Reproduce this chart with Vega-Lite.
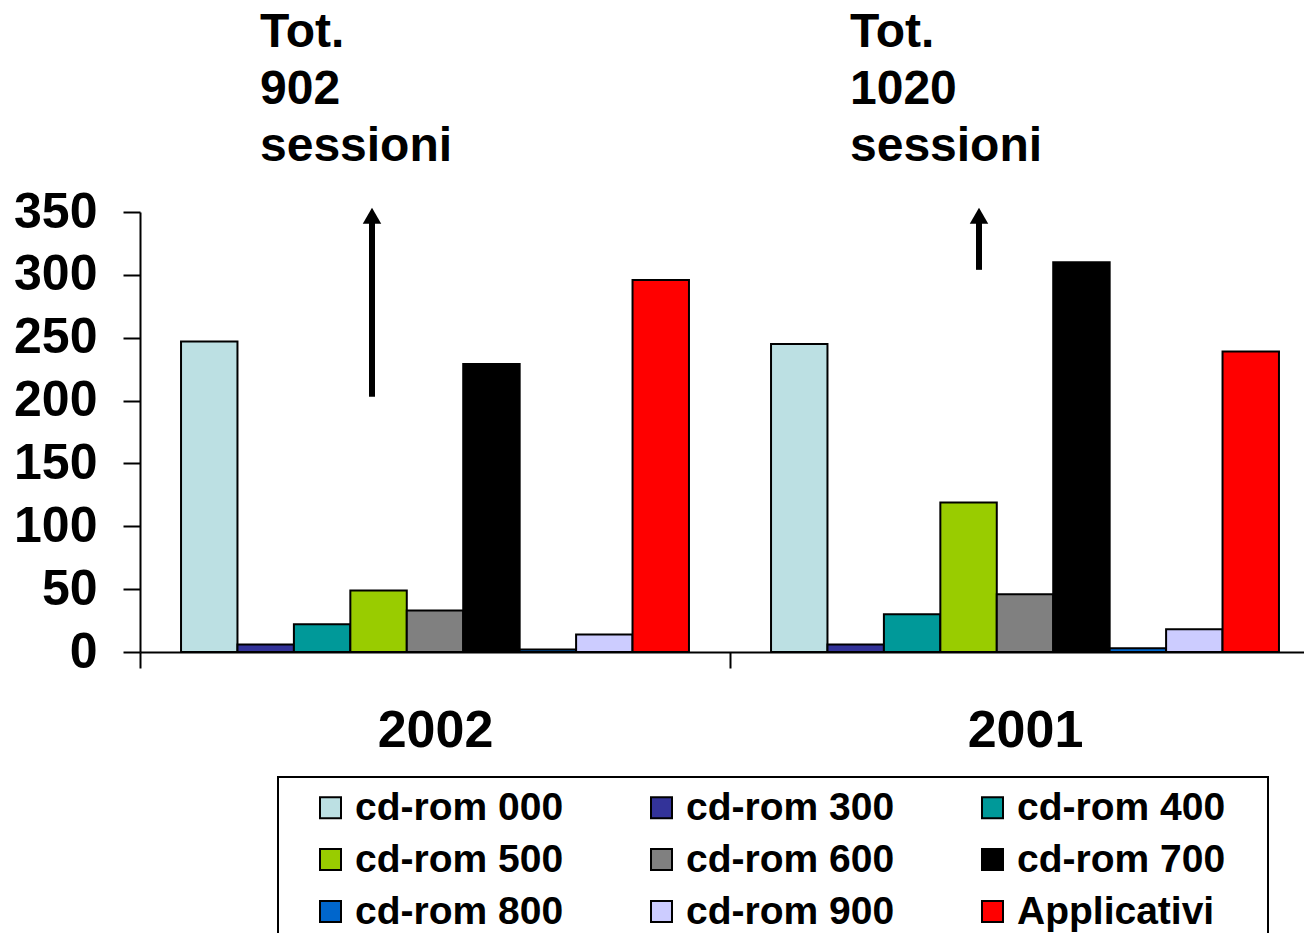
{
  "$schema": "https://vega.github.io/schema/vega-lite/v6.json",
  "width": 1164,
  "height": 440,
  "autosize": {"type": "none"},
  "padding": {"left": 140, "top": 212, "right": 0, "bottom": 281},
  "background": "white",
  "config": {
    "view": {"stroke": null},
    "font": "Liberation Sans",
    "legend": {"strokeWidth": 2}
  },
  "datasets": {
    "sessions": [
      {"year": "2002", "series": "cd-rom 000", "value": 247},
      {"year": "2002", "series": "cd-rom 300", "value": 6},
      {"year": "2002", "series": "cd-rom 400", "value": 22},
      {"year": "2002", "series": "cd-rom 500", "value": 49},
      {"year": "2002", "series": "cd-rom 600", "value": 33},
      {"year": "2002", "series": "cd-rom 700", "value": 229},
      {"year": "2002", "series": "cd-rom 800", "value": 2},
      {"year": "2002", "series": "cd-rom 900", "value": 14},
      {"year": "2002", "series": "Applicativi", "value": 296},
      {"year": "2001", "series": "cd-rom 000", "value": 245},
      {"year": "2001", "series": "cd-rom 300", "value": 6},
      {"year": "2001", "series": "cd-rom 400", "value": 30},
      {"year": "2001", "series": "cd-rom 500", "value": 119},
      {"year": "2001", "series": "cd-rom 600", "value": 46},
      {"year": "2001", "series": "cd-rom 700", "value": 310},
      {"year": "2001", "series": "cd-rom 800", "value": 3},
      {"year": "2001", "series": "cd-rom 900", "value": 18},
      {"year": "2001", "series": "Applicativi", "value": 239}
    ],
    "notes": [
      {"year": "2002", "note": "Tot. 902 sessioni"},
      {"year": "2001", "note": "Tot. 1020 sessioni"}
    ],
    "arrows": [
      {"year": "2002", "from": 203},
      {"year": "2001", "from": 304}
    ]
  },
  "layer": [
    {
      "data": {"name": "sessions"},
      "mark": {"type": "bar", "stroke": "black", "strokeWidth": 2},
      "encoding": {
        "x": {
          "field": "year", "type": "nominal", "sort": ["2002", "2001"],
          "scale": {"range": [0, 1180], "paddingInner": 0, "paddingOuter": 0},
          "axis": {
            "title": null, "labelAngle": 0,
            "domainColor": "black", "domainWidth": 2,
            "tickColor": "black", "tickWidth": 2, "tickSize": 16, "tickBand": "extent",
            "labelFontSize": 52, "labelFontWeight": "bold", "labelColor": "black", "labelPadding": 37
          }
        },
        "xOffset": {
          "field": "series", "type": "nominal",
          "sort": ["cd-rom 000", "cd-rom 300", "cd-rom 400", "cd-rom 500", "cd-rom 600", "cd-rom 700", "cd-rom 800", "cd-rom 900", "Applicativi"],
          "scale": {"paddingInner": 0, "paddingOuter": 0.727}
        },
        "y": {
          "field": "value", "type": "quantitative",
          "scale": {"domain": [0, 350], "nice": false},
          "axis": {
            "title": null, "values": [0, 50, 100, 150, 200, 250, 300, 350], "grid": false,
            "domainColor": "black", "domainWidth": 2,
            "tickColor": "black", "tickWidth": 2, "tickSize": 17,
            "labelFontSize": 50, "labelFontWeight": "bold", "labelColor": "black", "labelPadding": 26
          }
        },
        "color": {
          "field": "series", "type": "nominal",
          "sort": ["cd-rom 000", "cd-rom 300", "cd-rom 400", "cd-rom 500", "cd-rom 600", "cd-rom 700", "cd-rom 800", "cd-rom 900", "Applicativi"],
          "scale": {
            "domain": ["cd-rom 000", "cd-rom 300", "cd-rom 400", "cd-rom 500", "cd-rom 600", "cd-rom 700", "cd-rom 800", "cd-rom 900", "Applicativi"],
            "range": ["#BCE0E3", "#333399", "#009999", "#99CC00", "#808080", "#000000", "#0066CC", "#CCCCFF", "#FF0000"]
          },
          "legend": {
            "title": "\u00a0", "titleOrient": "right", "titleFontSize": 10, "titlePadding": 32,
            "orient": "none", "legendX": 138, "legendY": 565,
            "direction": "horizontal",
            "columns": 3, "symbolType": "square", "symbolSize": 441,
            "symbolStrokeColor": "black", "symbolStrokeWidth": 2, "symbolOpacity": 1,
            "labelFontSize": 39, "labelFontWeight": "bold", "labelColor": "black",
            "labelOffset": 5, "labelLimit": 500,
            "columnPadding": 56, "rowPadding": 12, "padding": 11,
            "symbolOffset": 22,
            "strokeColor": "black", "fillColor": "white"
          }
        }
      }
    },
    {
      "data": {"name": "notes"},
      "mark": {"type": "text", "align": "left", "baseline": "alphabetic", "dx": -175, "fontSize": 48, "fontWeight": "bold", "lineHeight": 57, "lineBreak": " ", "color": "black"},
      "encoding": {
        "x": {"field": "year", "type": "nominal", "sort": ["2002", "2001"]},
        "y": {"datum": 481, "type": "quantitative"},
        "text": {"field": "note"}
      }
    },
    {
      "data": {"name": "arrows"},
      "mark": {"type": "rule", "color": "black", "strokeWidth": 6, "xOffset": {"expr": "datum.year == '2002' ? -63 : -46"}},
      "encoding": {
        "x": {"field": "year", "type": "nominal", "sort": ["2002", "2001"]},
        "y": {"field": "from", "type": "quantitative"},
        "y2": {"datum": 342}
      }
    },
    {
      "data": {"name": "arrows"},
      "mark": {"type": "point", "shape": "triangle-up", "filled": true, "opacity": 1, "color": "black", "size": 340, "xOffset": {"expr": "datum.year == '2002' ? -63 : -46"}},
      "encoding": {
        "x": {"field": "year", "type": "nominal", "sort": ["2002", "2001"]},
        "y": {"datum": 347, "type": "quantitative"}
      }
    }
  ]
}
